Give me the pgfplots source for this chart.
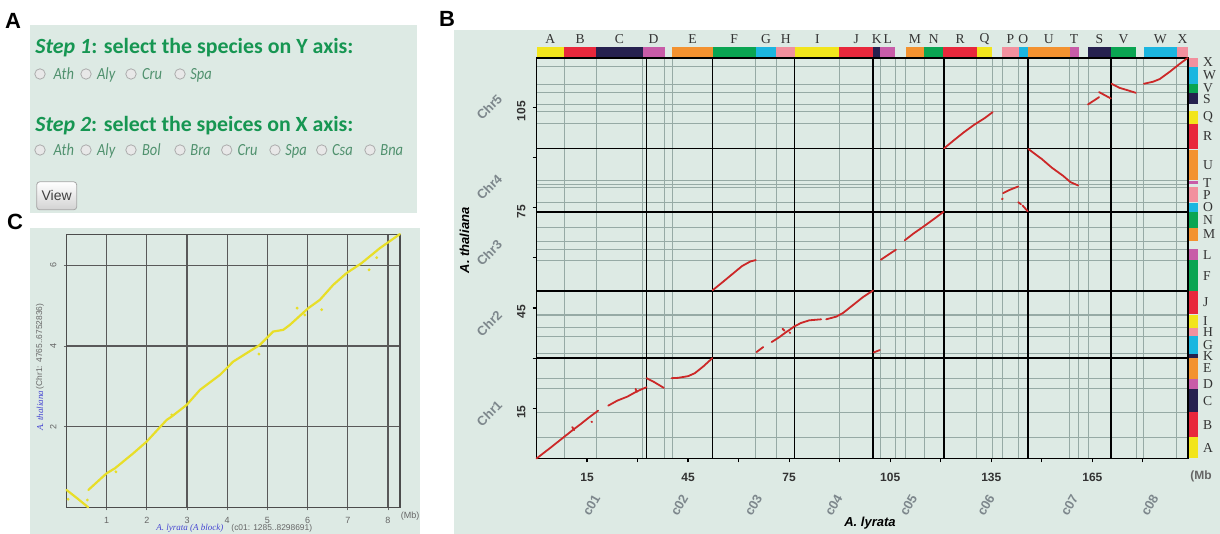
\documentclass[border=0pt]{standalone}
\usepackage{fontspec}
\setmainfont{Liberation Sans}
\newfontfamily\serifA{Liberation Serif}
\newfontfamily\calib{Carlito}
\usepackage{graphicx}
\usepackage{pgfplots}
\pgfplotsset{compat=1.18}
\definecolor{panelbg}{RGB}{221,234,228}
\definecolor{stepgreen}{RGB}{22,150,82}
\definecolor{optgreen}{RGB}{80,145,110}
\definecolor{dotred}{RGB}{204,40,40}
\definecolor{dotyel}{RGB}{232,222,40}
\definecolor{kY}{RGB}{242,229,28}
\definecolor{kR}{RGB}{232,40,60}
\definecolor{kN}{RGB}{38,33,79}
\definecolor{kM}{RGB}{200,92,168}
\definecolor{kO}{RGB}{243,146,48}
\definecolor{kG}{RGB}{10,165,82}
\definecolor{kC}{RGB}{27,182,224}
\definecolor{kP}{RGB}{242,144,158}
\definecolor{gridthin}{RGB}{150,170,165}
\definecolor{chrgray}{RGB}{125,135,140}
\definecolor{labblue}{RGB}{70,70,210}
\newcommand\xblk[4]{%
  \addplot[fill=#3,draw=none,forget plot] coordinates {(#1,119.9) (#2,119.9) (#2,122.9) (#1,122.9)};
  \path (axis cs:#1,125.4) -- (axis cs:#2,125.4) node[midway,inner sep=0.5pt,font=\serifA\fontsize{6.8}{8}\selectfont,text=black!80] {#4};}
\newcommand\yblk[4]{%
  \addplot[fill=#3,draw=none,forget plot] coordinates {(193.6,#1) (196.3,#1) (196.3,#2) (193.6,#2)};
  \path (axis cs:196.3,#1) -- (axis cs:196.3,#2) node[midway,anchor=west,inner sep=0.5pt,xshift=2pt,font=\serifA\fontsize{6.8}{8}\selectfont,text=black!80] {#4};}
\newcommand\seg[1]{\addplot[dotred,line width=0.9pt,line join=round,line cap=round,forget plot] coordinates {#1};}
\newcommand\yseg[1]{\addplot[dotyel,line width=1.1pt,line join=round,line cap=round,forget plot] coordinates {#1};}
\begin{document}
\begin{tikzpicture}
\path[use as bounding box, fill=white] (0,0) rectangle (610pt,267pt);
% panel backgrounds
\fill[panelbg] (15pt,160.5pt) rectangle (208.5pt,254.5pt);
\fill[panelbg] (227pt,0pt) rectangle (610pt,252pt);
\fill[panelbg] (15pt,0pt) rectangle (210pt,153pt);
% panel letters
\node[font=\bfseries\fontsize{11}{11}\selectfont] at (6.5pt,256.5pt) {A};
\node[font=\bfseries\fontsize{11}{11}\selectfont] at (223.5pt,257.5pt) {B};
\node[font=\bfseries\fontsize{11}{11}\selectfont] at (7.5pt,156pt) {C};

% ---------------- Panel A ----------------
\begin{axis}[at={(15pt,160.5pt)},anchor=south west,scale only axis,width=193.5pt,height=94pt,
  xmin=30,xmax=417,ymin=25,ymax=213,y dir=reverse,hide axis,clip=false]
\addplot[only marks,mark=*,mark size=2.6pt,mark options={fill=gray!18,draw=gray!65,line width=0.4pt}]
  coordinates {(40,74) (86,74) (131,74) (180,74)};
\addplot[only marks,mark=*,mark size=2.6pt,mark options={fill=gray!18,draw=gray!65,line width=0.4pt}]
  coordinates {(40,150) (86,150) (131,150) (180,150) (226.7,150) (275,150) (321.7,150) (370,150)};
\node[anchor=base west,inner sep=0pt] at (axis cs:35,53.3) {\resizebox{159pt}{7.6pt}{\calib\bfseries\color{stepgreen}\textit{Step 1}: select the species on Y axis:}};
\node[anchor=base west,inner sep=0pt] at (axis cs:35,131.7) {\resizebox{159pt}{7.6pt}{\calib\bfseries\color{stepgreen}\textit{Step 2}: select the speices on X axis:}};
\foreach \xx/\lab in {53.3/Ath,96.7/Aly,141.7/Cru,190/Spa}{
  \edef\tmp{\noexpand\node[anchor=base west,inner sep=0pt,font=\noexpand\calib\noexpand\itshape\noexpand\fontsize{8.5}{9}\noexpand\selectfont,text=optgreen] at (axis cs:\xx,79.3) {\noexpand\scalebox{0.85}[1]{\lab}};}\tmp}
\foreach \xx/\lab in {53.3/Ath,96.7/Aly,141.7/Bol,190/Bra,237.3/Cru,285/Spa,331.7/Csa,380/Bna}{
  \edef\tmp{\noexpand\node[anchor=base west,inner sep=0pt,font=\noexpand\calib\noexpand\itshape\noexpand\fontsize{8.5}{9}\noexpand\selectfont,text=optgreen] at (axis cs:\xx,155.3) {\noexpand\scalebox{0.85}[1]{\lab}};}\tmp}
\node[draw=gray!70,rounded corners=1.5pt,top color=white,bottom color=gray!35,minimum width=20pt,minimum height=14pt,inner sep=0pt,font=\fontsize{7}{8}\selectfont,text=black!75] at (axis cs:56.7,195.8) {View};
\end{axis}

% ---------------- Panel B ----------------
\begin{axis}[at={(268.25pt,37.75pt)},anchor=south west,scale only axis,width=325.75pt,height=200.25pt,
  xmin=0,xmax=193.4,ymin=0,ymax=119.7,clip=false,
  axis background/.style={fill=panelbg},
  axis line style={black,line width=0.8pt},
  xtick={15,30,...,180}, xticklabels={15,,45,,75,,105,,135,,165,},
  ytick={15,30,...,105}, yticklabels={15,,45,,75,,105},
  tick pos=left, tick align=outside, major tick length=2pt,
  tick style={black,line width=0.6pt},
  minor xtick={8.2,17.7,31.5,38.0,40.3,65.1,71.2,89.9,102.0,106.5,109.6,115.1,130.7,135.3,138.3,143.1,158.3,160.9,163.8,178.1,180.3,190.1},
  minor ytick={6.4,13.8,20.8,23.8,31.3,36.5,39.1,42.8,43.2,59.3,62.5,65.0,69.0,76.5,81.1,81.9,83.0,100.1,103.8,105.8,109.3,111.8,117.1},
  minor tick length=0pt, xminorgrids, yminorgrids,
  minor grid style={gridthin,line width=0.45pt},
  extra x ticks={32.6,52.3,76.6,99.9,120.9,145.9,170.5},
  extra y ticks={30.0,50.1,73.7,92.7},
  extra x tick labels={}, extra y tick labels={},
  extra tick style={major tick length=0pt,grid=major,major grid style={black,line width=0.8pt}},
  ticklabel style={font=\bfseries\fontsize{6}{7}\selectfont,text=black!80},
  xticklabel style={yshift=-2pt},
  yticklabel style={rotate=90,anchor=south,xshift=-2pt},
  /pgf/number format/assume math mode=true]
% top colour bar (A. lyrata blocks)
\xblk{0}{8.2}{kY}{A}
\xblk{8.2}{17.7}{kR}{B}
\xblk{17.7}{31.5}{kN}{C}
\xblk{31.5}{38.0}{kM}{D}
\xblk{40.3}{52.3}{kO}{E}
\xblk{52.3}{65.1}{kG}{F}
\xblk{65.1}{71.2}{kC}{G}
\xblk{71.2}{76.8}{kP}{H}
\xblk{76.8}{89.9}{kY}{I}
\xblk{89.9}{100.0}{kR}{J}
\xblk{100.0}{102.0}{kN}{K}
\xblk{102.0}{106.5}{kM}{L}
\xblk{109.6}{115.1}{kO}{M}
\xblk{115.1}{120.8}{kG}{N}
\xblk{120.8}{130.7}{kR}{R}
\xblk{130.7}{135.3}{kY}{Q}
\xblk{138.3}{143.1}{kP}{P}
\xblk{143.1}{145.9}{kC}{O}
\xblk{145.9}{158.3}{kO}{U}
\xblk{158.3}{160.9}{kM}{T}
\xblk{163.8}{170.4}{kN}{S}
\xblk{170.4}{178.1}{kG}{V}
\xblk{180.3}{190.1}{kC}{W}
\xblk{190.1}{193.4}{kP}{X}
% right colour bar (A. thaliana blocks)
\yblk{0}{6.4}{kY}{A}
\yblk{6.4}{13.8}{kR}{B}
\yblk{13.8}{20.8}{kN}{C}
\yblk{20.8}{23.8}{kM}{D}
\yblk{23.8}{30.1}{kO}{E}
\yblk{30.1}{31.3}{kN}{K}
\yblk{31.3}{36.5}{kC}{G}
\yblk{36.5}{39.1}{kP}{H}
\yblk{39.1}{42.8}{kY}{I}
\yblk{43.2}{50.0}{kR}{J}
\yblk{50.0}{59.3}{kG}{F}
\yblk{59.3}{62.5}{kM}{L}
\yblk{65.0}{69.0}{kO}{M}
\yblk{69.0}{73.6}{kG}{N}
\yblk{73.8}{76.3}{kC}{O}
\yblk{76.6}{81.1}{kP}{P}
\yblk{81.9}{82.8}{kM}{T}
\yblk{83.1}{92.3}{kO}{U}
\yblk{92.6}{100.1}{kR}{R}
\yblk{100.1}{103.8}{kY}{Q}
\yblk{105.8}{109.3}{kN}{S}
\yblk{109.3}{111.8}{kG}{V}
\yblk{111.8}{117.1}{kC}{W}
\yblk{117.1}{119.7}{kP}{X}
% synteny segments
\seg{(0,0) (4,3.1) (8,6.3) (10.5,8.3) (13,10.2) (15.5,12.2) (18.3,14.3)}
\seg{(10.6,9.4) (11.2,8.5)}
\seg{(16.3,11.0) (16.5,10.9)}
\seg{(21.3,15.8) (24,17.3) (27,18.5) (29.5,19.9) (31,20.6) (32.7,21.3)}
\seg{(29.4,20.8) (29.8,19.9)}
\seg{(32.7,24.0) (35,22.8) (37.8,21.1)}
\seg{(40.1,24.0) (42,24.1) (45,24.6) (47,25.5) (49.5,27.5) (52.2,30.0)}
\seg{(52.3,50.3) (55,52.5) (58,55) (61,57.5) (63.5,58.9) (65.1,59.3)}
\seg{(65.3,31.8) (67.3,33.3)}
\seg{(69.8,34.8) (72,36.2) (74,37.7) (76.2,39.2)}
\seg{(73.0,38.8) (73.6,38.2)}
\seg{(75.1,37.7) (75.3,37.5)}
\seg{(76.2,39.3) (78.5,40.5) (81,41.3) (84.5,41.6)}
\seg{(86,41.6) (89,42.4) (91,43.5) (94,45.9) (97,48.3) (99.9,50.2)}
\seg{(100.1,31.7) (101.9,32.4)}
\seg{(102.2,59.4) (106.7,62.4)}
\seg{(109.3,65.2) (112,67.3) (115,69.4) (118,71.6) (120.8,73.7)}
\seg{(121,92.7) (124,95.2) (127,97.6) (130,99.8) (133,101.7) (135.4,103.5)}
\seg{(138.5,79.3) (140.5,80.3) (143,81.3)}
\seg{(138.2,77.5) (138.4,77.7)}
\seg{(143,76.6) (143.8,76.0)}
\seg{(144.3,75.6) (145.8,73.9)}
\seg{(146,92.5) (150,89.5) (153,86.9) (156.3,84.5) (158.5,82.6) (160.8,81.6)}
\seg{(163.7,105.8) (167,108)}
\seg{(167,109.5) (170.5,107.6)}
\seg{(170.7,112) (173,110.8) (175,110.2) (177.9,109.3)}
\seg{(180.3,112) (183,112.6) (185,113.4) (188,115.6) (191,118) (193.3,119.7)}
% labels
\foreach \yy/\lab in {13.5/Chr1,40.4/Chr2,61.4/Chr3,81.1/Chr4,105/Chr5}{
  \edef\tmp{\noexpand\node[rotate=45,inner sep=0pt,font=\noexpand\bfseries\noexpand\fontsize{6.5}{7}\noexpand\selectfont,text=chrgray] at (axis cs:-14.0,\yy) {\lab};}\tmp}
\foreach \xx/\lab in {16.3/c01,42.4/c02,64.4/c03,88.2/c04,110.4/c05,133.4/c06,158.2/c07,182/c08}{
  \edef\tmp{\noexpand\node[rotate=60,inner sep=0pt,font=\noexpand\bfseries\noexpand\fontsize{6.5}{7}\noexpand\selectfont,text=chrgray] at (axis cs:\xx,-14.0) {\lab};}\tmp}
\node[font=\bfseries\itshape\fontsize{6.5}{7}\selectfont] at (axis cs:99,-19.4) {A. lyrata};
\node[rotate=90,font=\bfseries\itshape\fontsize{6.5}{7}\selectfont] at (axis cs:-21.4,65.2) {A. thaliana};
\node[anchor=west,inner sep=0pt,font=\bfseries\fontsize{6}{7}\selectfont,text=black!60] at (axis cs:194.0,-5.4) {(Mb};
\end{axis}

% ---------------- Panel C ----------------
\begin{axis}[at={(33.25pt,13.35pt)},anchor=south west,scale only axis,width=166.75pt,height=136.5pt,
  xmin=0,xmax=8.3,ymin=0,ymax=6.77,clip=false,
  axis background/.style={fill=panelbg},
  axis line style={black!70,line width=0.7pt},
  xtick={1,...,8}, ytick={2,4,6},
  grid=major, major grid style={black!65,line width=0.6pt},
  tick pos=left, tick align=outside, major tick length=1.5pt,
  tick style={black!60,line width=0.4pt},
  ticklabel style={font=\fontsize{4.5}{5}\selectfont,text=black!60},
  yticklabel style={rotate=90,anchor=south},
  /pgf/number format/assume math mode=true]
\yseg{(0,0.43) (0.27,0.22) (0.54,0)}
\yseg{(0.543,0.429) (0.999,0.843) (1.206,0.967) (1.662,1.339) (1.994,1.628) (2.492,2.166) (2.616,2.249) (2.990,2.538) (3.321,2.911) (3.818,3.283) (4.150,3.614) (4.482,3.821) (4.813,4.027) (5.145,4.358) (5.394,4.400) (5.560,4.524) (6.016,4.937) (6.306,5.144) (6.638,5.516) (6.969,5.806) (7.343,6.054) (7.799,6.426) (8.296,6.774)}
\addplot[only marks,mark=*,mark size=0.5pt,dotyel] coordinates {(0.04,0.2) (0.52,0.18) (1.23,0.88) (2.62,2.29) (4.79,3.80) (5.74,4.94) (5.93,4.77) (6.35,4.90) (7.53,5.89) (7.72,6.19)};
\node[font=\serifA\itshape\fontsize{4.5}{5}\selectfont,text=labblue] at (axis cs:3.07,-0.52) {A. lyrata (A block)};
\node[font=\fontsize{4.2}{5}\selectfont,text=black!60] at (axis cs:5.11,-0.52) {(c01: 1285..8298691)};
\node[rotate=90,font=\serifA\itshape\fontsize{4.5}{5}\selectfont,text=labblue] at (axis cs:-0.66,2.39) {A. thaliana};
\node[rotate=90,font=\fontsize{4.2}{5}\selectfont,text=black!60] at (axis cs:-0.66,3.99) {(Chr1: 4765..6752836)};
\node[font=\fontsize{4.5}{5}\selectfont,text=black!60] at (axis cs:8.55,-0.22) {(Mb)};
\end{axis}
\end{tikzpicture}
\end{document}
